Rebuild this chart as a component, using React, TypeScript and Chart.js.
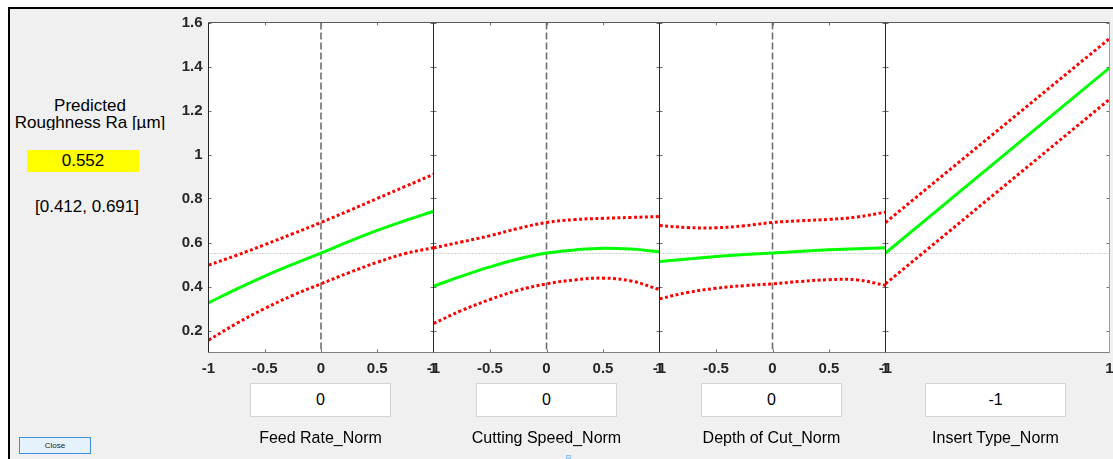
import React, { useEffect, useRef } from "react";
import { Chart, registerables } from "chart.js";
Chart.register(...registerables);

const FONT = '"Liberation Sans", Arial, Helvetica, sans-serif';

// ---- data ----
const predictedValue = 0.552;
const predictedText = "0.552";
const intervalText = "[0.412, 0.691]";
const responseTitle = ["Predicted", "Roughness Ra [µm]"];

const factorNames = ["Feed Rate_Norm", "Cutting Speed_Norm", "Depth of Cut_Norm", "Insert Type_Norm"];
const currentSettings = [0, 0, 0, -1];
const currentSettingLabels = ["0", "0", "0", "-1"];

const yTicks = [0.2, 0.4, 0.6, 0.8, 1, 1.2, 1.4, 1.6];
const xTicksContinuous = [-1, -0.5, 0, 0.5, 1];
const xTicksInsert = [-1, 1];

const xContinuous = [-1, -0.75, -0.5, -0.25, 0, 0.25, 0.5, 0.75, 1];

const feedFit = [0.326, 0.388, 0.447, 0.501, 0.552, 0.605, 0.655, 0.7, 0.742];
const feedUpper = [0.497, 0.542, 0.59, 0.64, 0.691, 0.745, 0.8, 0.855, 0.91];
const feedLower = [0.156, 0.232, 0.3, 0.36, 0.412, 0.463, 0.51, 0.55, 0.576];

const speedFit = [0.401, 0.447, 0.489, 0.525, 0.552, 0.566, 0.574, 0.57, 0.558];
const speedUpper = [0.575, 0.603, 0.631, 0.664, 0.691, 0.704, 0.71, 0.714, 0.718];
const speedLower = [0.232, 0.291, 0.341, 0.383, 0.412, 0.43, 0.438, 0.425, 0.386];

const depthFit = [0.514, 0.525, 0.536, 0.545, 0.552, 0.56, 0.567, 0.572, 0.576];
const depthUpper = [0.677, 0.668, 0.667, 0.676, 0.691, 0.699, 0.705, 0.716, 0.738];
const depthLower = [0.344, 0.373, 0.392, 0.404, 0.412, 0.423, 0.431, 0.43, 0.405];

const xInsert = [-1, 1];
const insertFit = [0.552, 1.394];
const insertUpper = [0.691, 1.527];
const insertLower = [0.412, 1.251];

const panels = [
  { xs: xContinuous, fit: feedFit, upper: feedUpper, lower: feedLower, xTicks: xTicksContinuous, tension: 0.4 },
  { xs: xContinuous, fit: speedFit, upper: speedUpper, lower: speedLower, xTicks: xTicksContinuous, tension: 0.4 },
  { xs: xContinuous, fit: depthFit, upper: depthUpper, lower: depthLower, xTicks: xTicksContinuous, tension: 0.4 },
  { xs: xInsert, fit: insertFit, upper: insertUpper, lower: insertLower, xTicks: xTicksInsert, tension: 0 },
];

// ---- layout ----
const CANVAS_W = 1130;
const CANVAS_H = 459;
const PANEL_LEFT = [208.5, 433.5, 659.5, 885.5];
const PANEL_RIGHT = [433.5, 659.5, 885.5, 1109.5];
const PLOT_TOP = 22.5;
const PLOT_BOTTOM = 352.5;
const X_AXIS_H = 40;
const Y_AXIS_W = 50;
const BOX_LEFT = [250, 476, 701, 925];
const BOX_W = 141;

const tickFont = { family: FONT, size: 15, weight: "bold" as const };

function framePlugin(index: number) {
  return {
    id: "frame" + index,
    beforeDraw(chart: any) {
      const { ctx, chartArea: a } = chart;
      ctx.save();
      ctx.fillStyle = "#ffffff";
      ctx.fillRect(a.left, a.top, a.right - a.left, a.bottom - a.top);
      ctx.restore();
    },
    beforeDatasetsDraw(chart: any) {
      const { ctx, chartArea: a, scales } = chart;
      const x = scales.x;
      const y = scales.y;
      ctx.save();
      // reference line at the predicted value
      const py = y.getPixelForValue(predictedValue);
      ctx.strokeStyle = "#a6a6a6";
      ctx.lineWidth = 1;
      ctx.setLineDash([1, 2]);
      ctx.beginPath();
      ctx.moveTo(a.left, Math.round(py) + 0.5);
      ctx.lineTo(a.right, Math.round(py) + 0.5);
      ctx.stroke();
      // current setting line (hidden when it sits on the frame)
      const cv = currentSettings[index];
      if (cv > -1 && cv < 1) {
        const px = x.getPixelForValue(cv);
        ctx.strokeStyle = "#6e6e6e";
        ctx.lineWidth = 1.6;
        ctx.setLineDash([7, 3]);
        ctx.beginPath();
        ctx.moveTo(px, a.top);
        ctx.lineTo(px, a.bottom);
        ctx.stroke();
      }
      ctx.restore();
    },
    afterDatasetsDraw(chart: any) {
      const { ctx, chartArea: a, scales } = chart;
      const x = scales.x;
      const y = scales.y;
      const xt = panels[index].xTicks;
      ctx.save();
      ctx.lineWidth = 1;
      ctx.strokeStyle = "#707070";
      ctx.beginPath();
      for (const v of yTicks) {
        const py = Math.round(y.getPixelForValue(v)) + 0.5;
        ctx.moveTo(a.left, py);
        ctx.lineTo(a.left + 3, py);
        ctx.moveTo(a.right - 3, py);
        ctx.lineTo(a.right, py);
      }
      for (const v of xt) {
        if (v === -1 || v === 1) continue;
        const px = Math.round(x.getPixelForValue(v)) + 0.5;
        ctx.moveTo(px, a.top);
        ctx.lineTo(px, a.top + 3);
        ctx.moveTo(px, a.bottom);
        ctx.lineTo(px, a.bottom - 3);
      }
      ctx.stroke();
      // box
      ctx.strokeStyle = "#a0a0a0";
      ctx.beginPath();
      ctx.moveTo(a.right, a.top);
      ctx.lineTo(a.right, a.bottom);
      ctx.stroke();
      ctx.strokeStyle = "#5a5a5a";
      ctx.beginPath();
      ctx.moveTo(a.left, a.top);
      ctx.lineTo(a.right, a.top);
      ctx.stroke();
      ctx.strokeStyle = "#808080";
      ctx.beginPath();
      ctx.moveTo(a.left, a.bottom);
      ctx.lineTo(a.right, a.bottom);
      ctx.stroke();
      ctx.strokeStyle = "#262626";
      ctx.beginPath();
      ctx.moveTo(a.left, a.top);
      ctx.lineTo(a.left, a.bottom);
      ctx.stroke();
      ctx.restore();
    },
  };
}

function Panel({ index }: { index: number }) {
  const ref = useRef<HTMLCanvasElement>(null);
  useEffect(() => {
    const p = panels[index];
    const yW = index === 0 ? Y_AXIS_W : 0;
    const toPts = (ys: number[]) => p.xs.map((xv, i) => ({ x: xv, y: ys[i] }));
    const chart = new Chart(ref.current as HTMLCanvasElement, {
      type: "line",
      data: {
        datasets: [
          { data: toPts(p.fit), borderColor: "#00ff00", borderWidth: 3, pointRadius: 0, tension: p.tension, fill: false },
          { data: toPts(p.upper), borderColor: "#ff0000", borderWidth: 3, borderDash: [3, 2.5], pointRadius: 0, tension: p.tension, fill: false },
          { data: toPts(p.lower), borderColor: "#ff0000", borderWidth: 3, borderDash: [3, 2.5], pointRadius: 0, tension: p.tension, fill: false },
        ],
      },
      options: {
        animation: false,
        responsive: false,
        events: [],
        layout: {
          padding: {
            left: PANEL_LEFT[index] - yW,
            right: CANVAS_W - PANEL_RIGHT[index],
            top: PLOT_TOP,
            bottom: CANVAS_H - PLOT_BOTTOM - X_AXIS_H,
          },
        },
        scales: {
          x: {
            type: "linear",
            min: -1,
            max: 1,
            grid: { display: false, drawTicks: false },
            border: { display: false },
            afterBuildTicks: (s: any) => {
              s.ticks = p.xTicks.map((v) => ({ value: v }));
            },
            afterFit: (s: any) => {
              s.height = X_AXIS_H;
            },
            ticks: {
              autoSkip: false,
              maxRotation: 0,
              minRotation: 0,
              padding: 7,
              color: "#262626",
              font: tickFont,
              callback: (v: any) => String(v),
            },
          },
          y: {
            type: "linear",
            min: 0.1,
            max: 1.6,
            display: index === 0,
            grid: { display: false, drawTicks: false },
            border: { display: false },
            afterBuildTicks: (s: any) => {
              s.ticks = yTicks.map((v) => ({ value: v }));
            },
            afterFit: (s: any) => {
              s.width = yW;
            },
            ticks: {
              padding: 6,
              color: "#262626",
              font: tickFont,
              callback: (v: any) => String(v),
            },
          },
        },
        plugins: { legend: { display: false }, tooltip: { enabled: false } },
      } as any,
      plugins: [framePlugin(index)],
    });
    return () => chart.destroy();
  }, [index]);
  return (
    <canvas
      ref={ref}
      width={CANVAS_W}
      height={CANVAS_H}
      style={{ position: "absolute", left: 0, top: 0, width: CANVAS_W, height: CANVAS_H }}
    />
  );
}

export default function App() {
  return (
    <div
      style={{
        position: "fixed",
        left: 0,
        top: 0,
        width: 1113,
        height: 459,
        overflow: "hidden",
        background: "#ffffff",
        fontFamily: FONT,
        color: "#000",
      }}
    >
      <div
        style={{
          position: "absolute",
          left: 8,
          top: 7,
          right: 0,
          bottom: 0,
          background: "#f0f0f0",
          borderLeft: "2px solid #000",
          borderTop: "2px solid #000",
        }}
      />
      <div
        style={{
          position: "absolute",
          left: 0,
          top: 98.4,
          width: 180,
          height: 31.5,
          overflow: "hidden",
          textAlign: "center",
          fontSize: 17,
          lineHeight: "16.5px",
          whiteSpace: "nowrap",
        }}
      >
        {responseTitle[0]}
        <br />
        {responseTitle[1]}
      </div>
      <div
        style={{
          position: "absolute",
          left: 27,
          top: 150,
          width: 112,
          height: 22,
          background: "#ffff00",
          textAlign: "center",
          fontSize: 17,
          lineHeight: "22px",
        }}
      >
        {predictedText}
      </div>
      <div
        style={{
          position: "absolute",
          left: 0,
          top: 197.4,
          width: 174,
          textAlign: "center",
          fontSize: 17,
          lineHeight: "20px",
        }}
      >
        {intervalText}
      </div>
      {panels.map((_, i) => (
        <Panel key={i} index={i} />
      ))}
      {factorNames.map((name, i) => (
        <React.Fragment key={name}>
          <div
            style={{
              position: "absolute",
              left: BOX_LEFT[i],
              top: 383,
              width: BOX_W,
              height: 34,
              boxSizing: "border-box",
              background: "#ffffff",
              border: "1px solid #d4d4d4",
              textAlign: "center",
              fontSize: 16,
              lineHeight: "32px",
            }}
          >
            {currentSettingLabels[i]}
          </div>
          <div
            style={{
              position: "absolute",
              left: BOX_LEFT[i] - 30,
              top: 427.8,
              width: BOX_W + 60,
              textAlign: "center",
              fontSize: 16,
              lineHeight: "20px",
              whiteSpace: "nowrap",
            }}
          >
            {name}
          </div>
        </React.Fragment>
      ))}
      <div
        style={{
          position: "absolute",
          left: 19,
          top: 437,
          width: 72,
          height: 17,
          boxSizing: "border-box",
          background: "#e5f1fb",
          border: "1px solid #3c8fd8",
          textAlign: "center",
          fontSize: 8,
          lineHeight: "15px",
          color: "#222",
        }}
      >
        Close
      </div>
      <div
        style={{
          position: "absolute",
          left: 566,
          top: 455,
          width: 5,
          height: 4,
          boxSizing: "border-box",
          background: "#cfe3f7",
          border: "1px solid #9cc3ea",
        }}
      />
    </div>
  );
}
